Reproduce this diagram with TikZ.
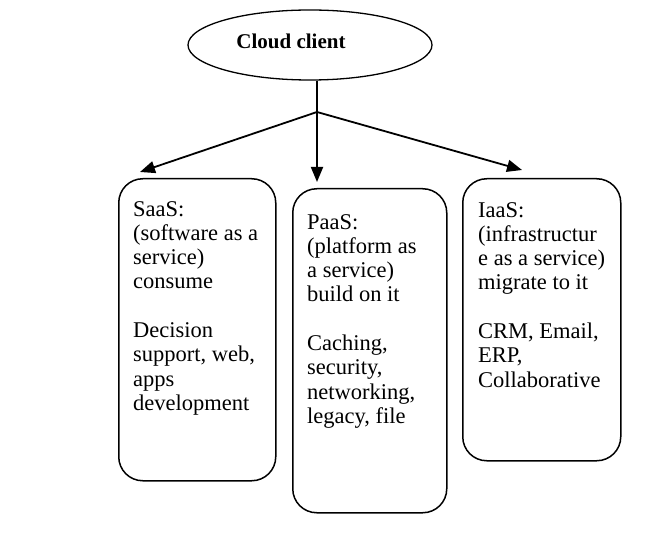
\documentclass[tikz,border=0pt]{standalone}
\usepackage{fontspec}
\setmainfont{Liberation Serif}
\usepackage{tikz}
\usetikzlibrary{shapes.geometric, arrows.meta, positioning}
\tikzset{
    cloudnode/.style={ellipse, draw=black, line width=1.3pt, minimum width=244pt, minimum height=70pt},
    svcbox/.style={rectangle, draw=black, line width=1.5pt, rounded corners=24pt, anchor=north west},
    svctext/.style={align=left, inner sep=0pt, anchor=north west, font=\fontsize{22.5}{24.3}\selectfont},
    arrow/.style={line width=1.8pt, -{Triangle[length=15pt,width=12pt]}, color=black},
    line/.style={line width=1.8pt, color=black}
}
\begin{document}
\begin{tikzpicture}[x=1pt, y=-1pt]
    \useasboundingbox (0,0) rectangle (670,540);

    \node (client) [cloudnode] at (310,45) {};
    \node (clientlabel) [font=\fontsize{21}{24}\selectfont\bfseries] at (291,41) {Cloud client};
    \coordinate (fork) at (317,112);

    \node (saas) [svcbox, minimum width=157pt, minimum height=302pt] at (118,178) {};
    \node (paas) [svcbox, minimum width=154pt, minimum height=324pt] at (292,188) {};
    \node (iaas) [svcbox, minimum width=158pt, minimum height=282pt] at (462,178) {};

    \node (saastext) [svctext] at ([xshift=15pt,yshift=-23pt]saas.north west) {SaaS:\\ (software as a\\ service)\\ consume\\[24.3pt] Decision\\ support, web,\\ apps\\ development};
    \node (paastext) [svctext] at ([xshift=15pt,yshift=-26pt]paas.north west) {PaaS:\\ (platform as\\ a service)\\ build on it\\[24.3pt] Caching,\\ security,\\ networking,\\ legacy, file};
    \node (iaastext) [svctext] at ([xshift=16pt,yshift=-24pt]iaas.north west) {IaaS:\\ (infrastructur\\ e as a service)\\ migrate to it\\[24.3pt] CRM, Email,\\ ERP,\\ Collaborative};

    \draw [line] (client.south -| fork) -- (fork);
    \draw [arrow] (fork) -- ([xshift=22pt,yshift=6pt]saas.north west);
    \draw [arrow] (fork) -- ([xshift=25pt,yshift=6pt]paas.north west);
    \draw [arrow] (fork) -- ([xshift=60pt,yshift=8pt]iaas.north west);
\end{tikzpicture}
\end{document}
